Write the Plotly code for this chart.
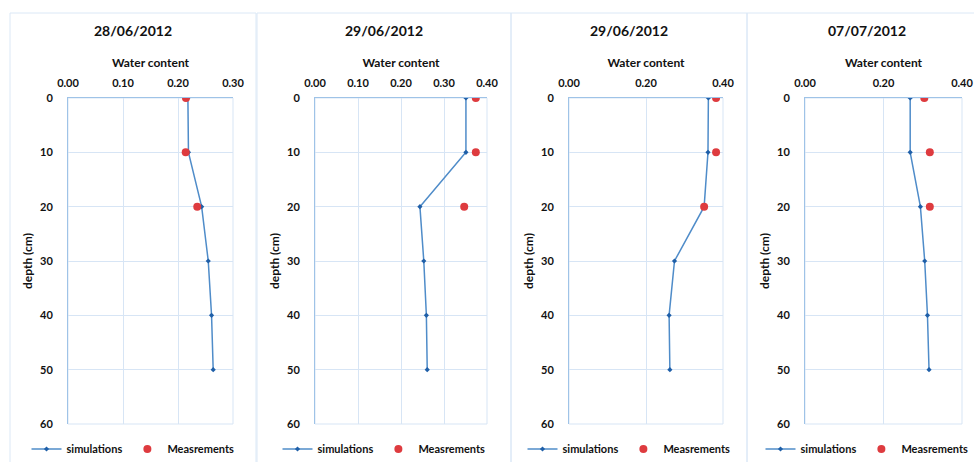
import plotly.graph_objects as go

depths = [0, 10, 20, 30, 40, 50]
meas_depths = [0, 10, 20]

titles = ["28/06/2012", "29/06/2012", "29/06/2012", "07/07/2012"]

sim_1 = [0.218, 0.219, 0.243, 0.255, 0.261, 0.264]
meas_1 = [0.2145, 0.214, 0.235]

sim_2 = [0.351, 0.351, 0.244, 0.253, 0.259, 0.261]
meas_2 = [0.374, 0.374, 0.347]

sim_3 = [0.362, 0.361, 0.351, 0.274, 0.260, 0.262]
meas_3 = [0.382, 0.382, 0.351]

sim_4 = [0.268, 0.268, 0.294, 0.305, 0.312, 0.316]
meas_4 = [0.304, 0.318, 0.318]

x_max = [0.30, 0.40, 0.40, 0.40]
x_dtick = [0.10, 0.10, 0.20, 0.20]

sims = [sim_1, sim_2, sim_3, sim_4]
meas = [meas_1, meas_2, meas_3, meas_4]

W, H = 974, 462
plot_px = [(68, 233), (315, 487), (569, 723), (805, 962)]
plot_top, plot_bot = 98, 424
panel_px = [(10, 256), (257, 511), (511, 747), (747, 990)]
centers = [133, 384, 629, 867]

FONT = "Lato"
grid_c = "#d7e5f5"
axis_c = "#9fc3e7"
sim_c = "#4f8cc9"
sim_mk = "#1f5fa8"
meas_c = "#de3b3f"

fig = go.Figure()
layout = dict(
    width=W, height=H, margin=dict(l=0, r=0, t=0, b=0, autoexpand=False),
    paper_bgcolor="white", plot_bgcolor="white",
    showlegend=True, font=dict(family=FONT, color="#111111"),
)
shapes = []
annotations = []

for i in range(4):
    sfx = "" if i == 0 else str(i + 1)
    xa, ya = "x" + sfx, "y" + sfx
    leg = "legend" if i == 0 else "legend" + str(i + 1)
    fig.add_trace(go.Scatter(
        x=sims[i], y=depths, mode="lines+markers", name="simulations",
        line=dict(color=sim_c, width=1.5),
        marker=dict(color=sim_mk, size=4, symbol="diamond"),
        xaxis=xa, yaxis=ya, legend=leg,
    ))
    fig.add_trace(go.Scatter(
        x=meas[i], y=meas_depths, mode="markers", name="Measrements",
        marker=dict(color=meas_c, size=8),
        xaxis=xa, yaxis=ya, legend=leg,
    ))
    l, r = plot_px[i]
    dom_x = [l / W, r / W]
    dom_y = [1 - plot_bot / H, 1 - plot_top / H]
    layout["xaxis" + sfx] = dict(
        domain=dom_x, anchor=ya, side="top", range=[0, x_max[i]],
        dtick=x_dtick[i], tickformat=".2f", showgrid=True, gridcolor=grid_c,
        gridwidth=1, showline=True, linecolor=axis_c, linewidth=1,
        mirror=False, zeroline=False, ticks="", automargin=False,
        tickfont=dict(family=FONT, size=11, weight="bold", color="#111"),
        ticklabelstandoff=6,
        title=dict(text="Water content", standoff=5,
                   font=dict(family=FONT, size=12, weight="bold", color="#111")),
    )
    layout["yaxis" + sfx] = dict(
        domain=dom_y, anchor=xa, range=[60, 0], dtick=10,
        showgrid=True, gridcolor=grid_c, gridwidth=1, showline=True,
        linecolor=axis_c, linewidth=1, zeroline=False, ticks="", automargin=False,
        tickfont=dict(family=FONT, size=11, weight="bold", color="#111"),
        ticklabelstandoff=12,
        title=dict(text="depth (cm)", standoff=4,
                   font=dict(family=FONT, size=12, weight="bold", color="#111")),
    )
    shapes.append(dict(type="rect", xref="paper", yref="paper",
                       x0=dom_x[0], x1=dom_x[1], y0=dom_y[0], y1=dom_y[1],
                       line=dict(color=grid_c, width=1), layer="below"))
    pl, pr = panel_px[i]
    shapes.append(dict(type="rect", xref="paper", yref="paper",
                       x0=pl / W, x1=pr / W, y0=-0.05, y1=1 - 13 / H,
                       line=dict(color="#dbe8f6", width=1), layer="below"))
    cx = centers[i]
    annotations.append(dict(
        text=titles[i], xref="paper", yref="paper", x=cx / W, y=1 - 30 / H,
        showarrow=False, xanchor="center", yanchor="middle",
        font=dict(family=FONT, size=14, weight="bold", color="#111"),
    ))
    layout[leg] = dict(
        orientation="h", x=cx / W, y=1 - 449 / H, xanchor="center",
        yanchor="middle", xref="paper", yref="paper",
        font=dict(family=FONT, size=11, weight="bold", color="#111"),
        bgcolor="rgba(0,0,0,0)", itemwidth=30, tracegroupgap=0,
    )

layout["shapes"] = shapes
layout["annotations"] = annotations
fig.update_layout(**layout)
fig.write_html("out.html", config={"displayModeBar": False},
               post_script="document.body.style.margin='0';document.body.style.overflow='hidden';")
